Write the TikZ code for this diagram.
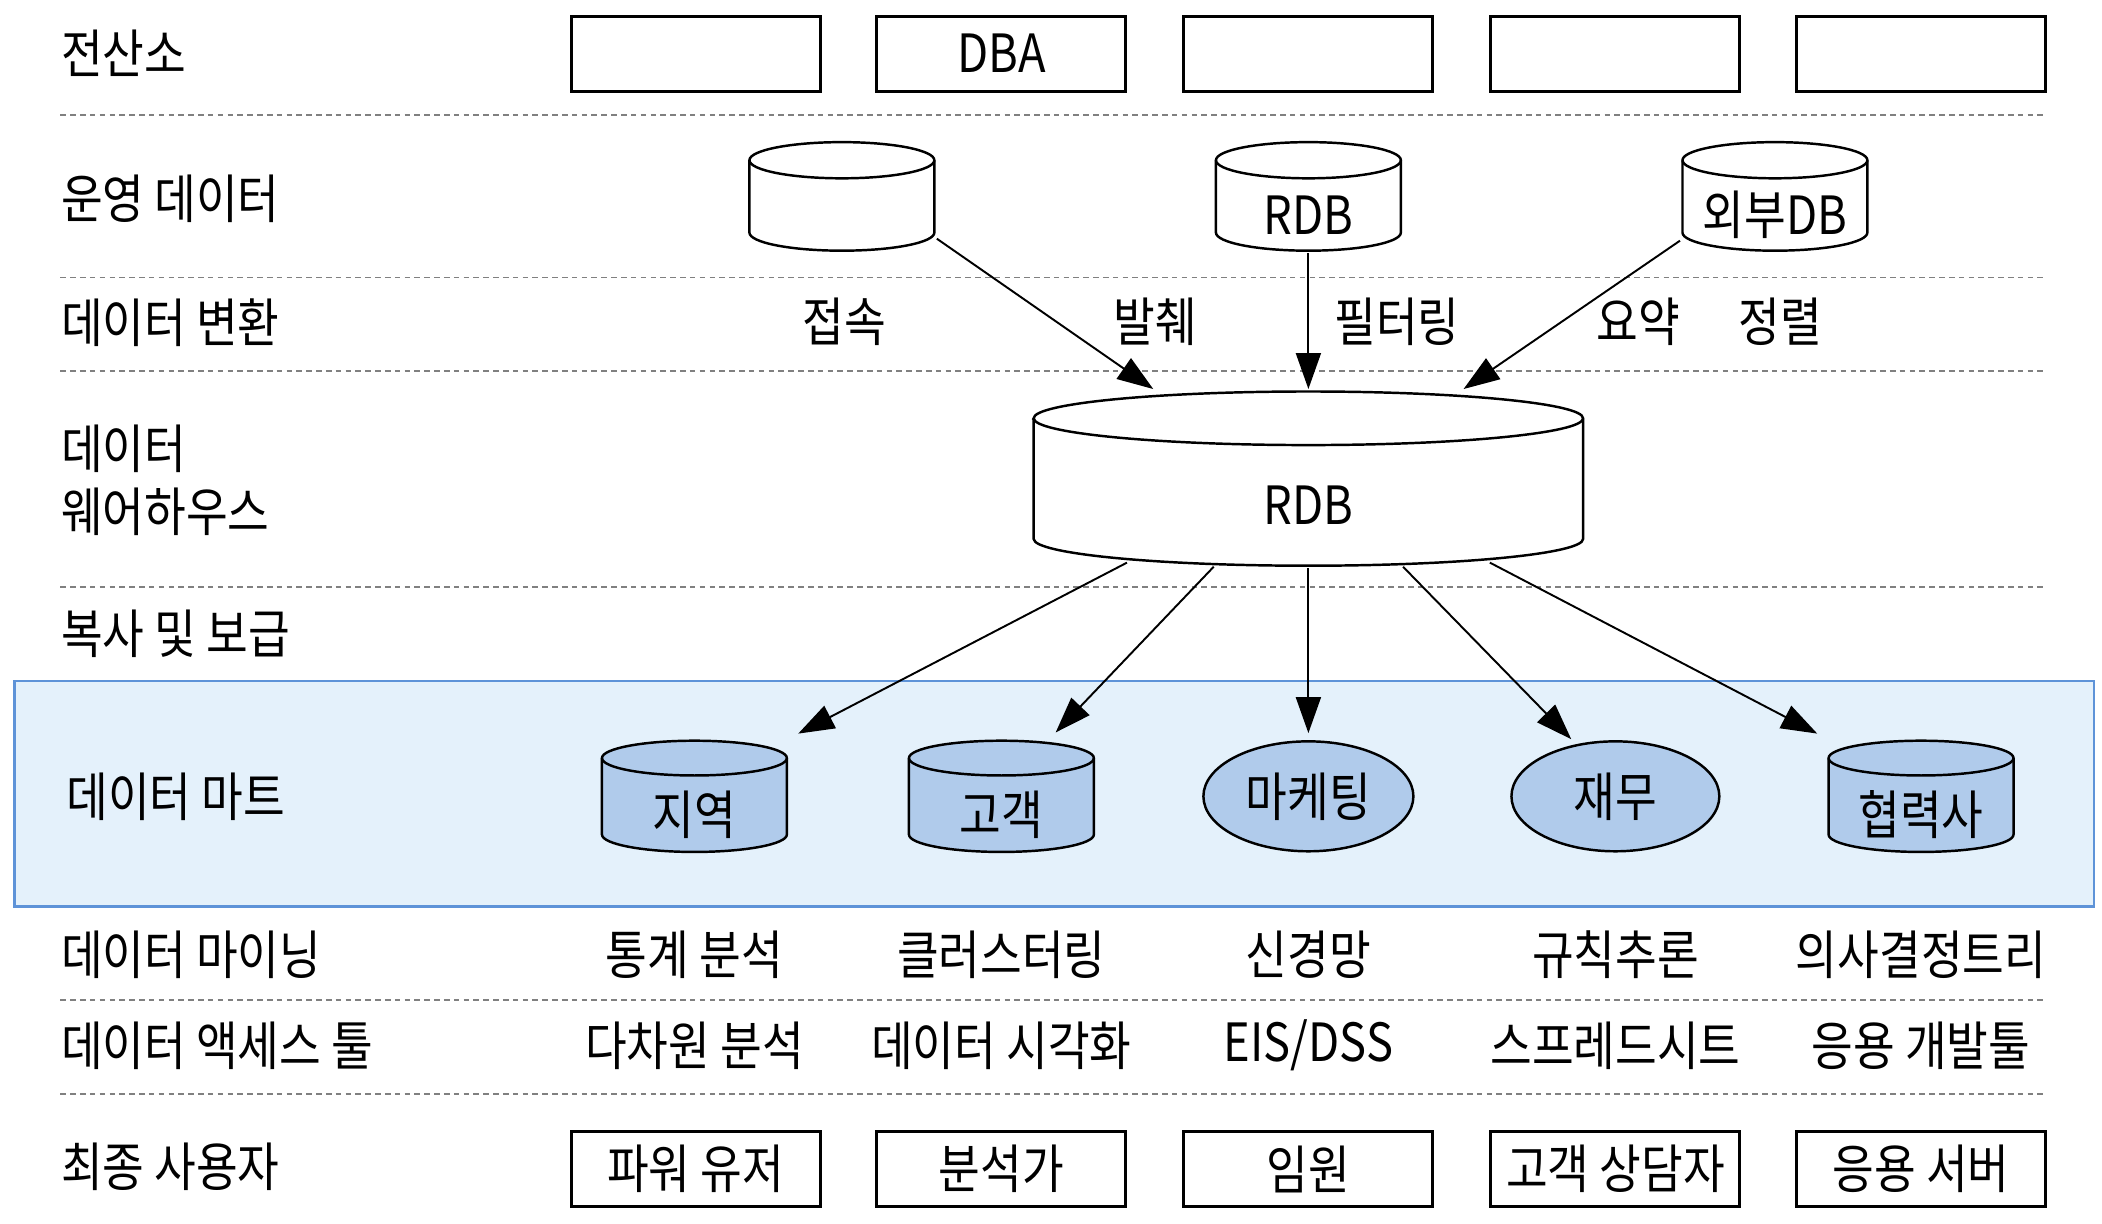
\documentclass[tikz,border=0pt]{standalone}
\usepackage{fontspec}
\setmainfont{Noto Sans CJK KR}[FakeStretch=0.86]
\usetikzlibrary{shapes.geometric,arrows.meta}

\definecolor{bandfill}{HTML}{E4F1FB}
\definecolor{bandline}{HTML}{5E93D8}
\definecolor{martfill}{HTML}{B0CBEB}

% cylinder outline inside a node: #1 cap radius, #2 half width, #3 fill
\newcommand\drumshape[3]{%
  \draw[line width=0.7pt,fill=#3]
    ([xshift=0.5pt,yshift={-#1-0.5pt}]path picture bounding box.north west)
    -- ([xshift=0.5pt,yshift={#1+0.5pt}]path picture bounding box.south west)
    arc[start angle=180,end angle=360,x radius=#2,y radius=#1]
    -- ([xshift=-0.5pt,yshift={-#1-0.5pt}]path picture bounding box.north east)
    arc[start angle=0,end angle=180,x radius=#2,y radius=#1] -- cycle;
  \draw[line width=0.7pt]
    ([xshift=0.5pt,yshift={-#1-0.5pt}]path picture bounding box.north west)
    arc[start angle=180,end angle=360,x radius=#2,y radius=#1];}
% text lowered into the body of a cylinder
\newcommand\sink[2][10.8pt]{\raisebox{-#1}[0pt][0pt]{#2}}

\tikzset{
  rowlabel/.style={anchor=west,inner sep=0pt,align=left},
  userbox/.style={draw,line width=0.85pt,minimum width=2.49cm,minimum height=0.75cm},
  drum/.style={rectangle,inner sep=0pt,minimum width={1.85cm+1pt},minimum height={1.086cm+1pt},
    path picture={\drumshape{0.181cm}{0.925cm}{white}}},
  bigdrum/.style={rectangle,inner sep=0pt,minimum width={5.497cm+1pt},minimum height={1.743cm+1pt},
    path picture={\drumshape{0.268cm}{2.7485cm}{white}}},
  martdrum/.style={rectangle,inner sep=0pt,minimum width={1.85cm+1pt},minimum height={1.113cm+1pt},
    path picture={\drumshape{0.174cm}{0.925cm}{martfill}}},
  martoval/.style={ellipse,draw,line width=0.7pt,fill=martfill,minimum width=2.08cm,minimum height=1.10cm},
  sep/.style={gray,line width=0.5pt,dash pattern=on 1.6pt off 1.2pt},
  feed/.style={-{Triangle[length=0.36cm,width=0.25cm]},line width=0.55pt}
}

\begin{document}
\begin{tikzpicture}[x=0.013406cm,y=-0.013406cm,font=\fontsize{15}{18}\selectfont]
    \useasboundingbox (0,0) rectangle (1568,913);
    % data mart band
    \draw[bandline,fill=bandfill,line width=0.8pt] (11,508) rectangle (1562,676);
    % separators
    \foreach \y in {86,207,277,438,746,816}
    \draw[sep] (45,\y) -- (1527,\y);
    % row labels
    \node[rowlabel] (l1) at (45,40) {전산소};
    \node[rowlabel] (l2) at (45,148) {운영 데이터};
    \node[rowlabel] (l3) at (45,241) {데이터 변환};
    \node[rowlabel] (l4) at (45,358) {데이터\\웨어하우스};
    \node[rowlabel] (l5) at (45,473) {복사 및 보급};
    \node[rowlabel] (l6) at (49,594) {데이터 마트};
    \node[rowlabel] (l7) at (45,712) {데이터 마이닝};
    \node[rowlabel] (l8) at (45,780) {데이터 액세스 툴};
    \node[rowlabel] (l9) at (45,870) {최종 사용자};
    % computer center
    \foreach \x/\t [count=\i] in {519/{},747/DBA,976/{},1205/{},1433/{}}
    \node[userbox] (cc\i) at (\x,40) {\t};
    % operational data
    \node[drum] (op1) at (628,146.5) {};
    \node[drum] (op2) at (976,146.5) {\sink{RDB}};
    \node[drum] (op3) at (1324,146.5) {\sink{외부DB}};
    % transformation
    \node (tr1) at (630,240) {접속};
    \node (tr2) at (862,240) {발췌};
    \node (tr3) at (1042,240) {필터링};
    \node (tr4) at (1222,240) {요약};
    \node (tr5) at (1328,240) {정렬};
    % warehouse
    \node[bigdrum] (wh) at (976,357) {\sink[13.2pt]{RDB}};
    \draw[feed] (op1.-24) -- (wh.150);
    \draw[feed] (op2.south) -- (wh.north);
    \draw[feed] (op3.205) -- (wh.30);
    % data marts
    \node[martdrum] (dm1) at (518,594) {\sink{지역}};
    \node[martdrum] (dm2) at (747,594) {\sink{고객}};
    \node[martoval] (dm3) at (976,594) {마케팅};
    \node[martoval] (dm4) at (1205,594) {재무};
    \node[martdrum] (dm5) at (1433,594) {\sink{협력사}};
    \draw[feed,shorten <=-0.12cm,shorten >=0.1cm] (wh.205) -- (dm1.north east);
    \draw[feed,shorten <=-0.02cm,shorten >=0.08cm] (wh.223) -- (dm2.50);
    \draw[feed,shorten >=0.07cm] (wh.south) -- (dm3.north);
    \draw[feed,shorten <=-0.02cm,shorten >=0.07cm] (wh.317) -- (dm4.127);
    \draw[feed,shorten <=-0.12cm,shorten >=0.1cm] (wh.335) -- (dm5.north west);
    % mining and access tools
    \foreach \x/\t [count=\i] in {518/통계 분석,747/클러스터링,976/신경망,1205/규칙추론,1433/의사결정트리}
    \node (mi\i) at (\x,712) {\t};
    \foreach \x/\t [count=\i] in {518/다차원 분석,747/데이터 시각화,976/{EIS/DSS},1205/스프레드시트,1433/응용 개발툴}
    \node (ac\i) at (\x,780) {\t};
    % end users
    \foreach \x/\t [count=\i] in {519/파워 유저,747/분석가,976/임원,1205/고객 상담자,1433/응용 서버}
    \node[userbox] (eu\i) at (\x,872) {\t};
  \end{tikzpicture}
\end{document}
